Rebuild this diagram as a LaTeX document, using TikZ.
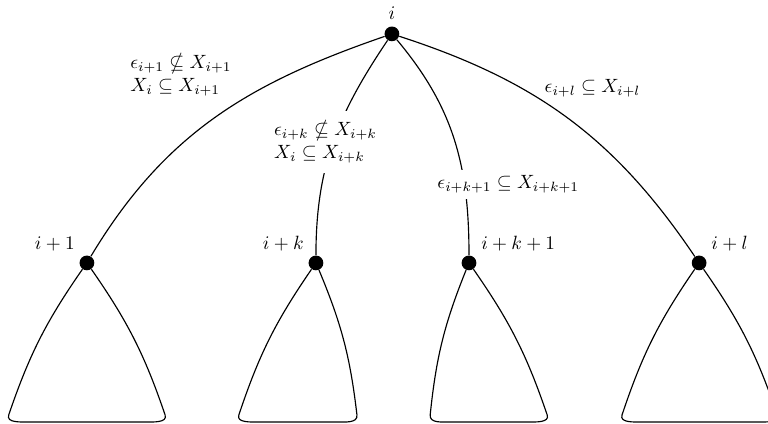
\documentclass[tikz,border=0pt]{standalone}
\usepackage{amsmath}
\usepackage{amssymb}
\usepackage{tikz}
\usetikzlibrary{positioning,calc}
\tikzset{
  vertex/.style ={circle,fill=black,inner sep=0pt,minimum size=2.7mm},
  branch/.style ={semithick},
  subtree/.style={semithick},
  note/.style   ={align=left,inner sep=3pt},
  cond/.style   ={note,fill=white},
}

\begin{document}
\begin{tikzpicture}
  \useasboundingbox (0,0) rectangle (14.05,7.74);
  \node[vertex,label=above:$i$] (ni) at (7.17,7.12) {};
  \node[vertex,label=above left:$i+1$] (n1) at (1.59,2.93) {};
  \node[vertex,label=above left:$i+k$] (nk) at (5.78,2.93) {};
  \node[vertex,label=above right:$i+k+1$] (nk1) at (8.58,2.93) {};
  \node[vertex,label=above right:$i+l$] (nl) at (12.79,2.93) {};
  \draw[branch] (ni) to[out=199,in=59] (n1);
  \draw[branch] (ni) to[out=236,in=90]
    node[cond,inner ysep=5pt,xshift=-1.4mm] {$\epsilon_{i+k}\nsubseteq X_{i+k}$\\$X_i\subseteq X_{i+k}$} (nk);
  \draw[branch] (ni) to[out=-50,in=90]
    node[cond,pos=0.71,xshift=8mm] {$\epsilon_{i+k+1}\subseteq X_{i+k+1}$} (nk1);
  \draw[branch] (ni) to[out=-18,in=124] (nl);
  \node[note] (t1) at (3.31,6.37) {$\epsilon_{i+1}\nsubseteq X_{i+1}$\\$X_i\subseteq X_{i+1}$};
  \node[note] (tl) at (10.84,6.12) {$\epsilon_{i+l}\subseteq X_{i+l}$};
  % subtrees under the children
  \draw[subtree] (n1) to[bend right=8] ++(-1.43,-2.78) to[out=-109,in=180] ++(0.38,-0.13)
    -- ++(2.10,0) to[out=0,in=-71] ++(0.38,0.13) to[bend right=8] (n1);
  \draw[subtree] (nk) to[bend right=8] ++(-1.41,-2.78) to[out=-109,in=180] ++(0.38,-0.13)
    -- ++(1.40,0) to[out=0,in=-83] ++(0.38,0.13) to[bend right=8] (nk);
  \draw[subtree] (nk1) to[bend right=8] ++(-0.71,-2.78) to[out=-96,in=180] ++(0.38,-0.13)
    -- ++(1.38,0) to[out=0,in=-71] ++(0.38,0.13) to[bend right=8] (nk1);
  \draw[subtree] (nl) to[bend right=8] ++(-1.41,-2.78) to[out=-109,in=180] ++(0.38,-0.13)
    -- ++(2.08,0) to[out=0,in=-71] ++(0.38,0.13) to[bend right=8] (nl);
\end{tikzpicture}
\end{document}
